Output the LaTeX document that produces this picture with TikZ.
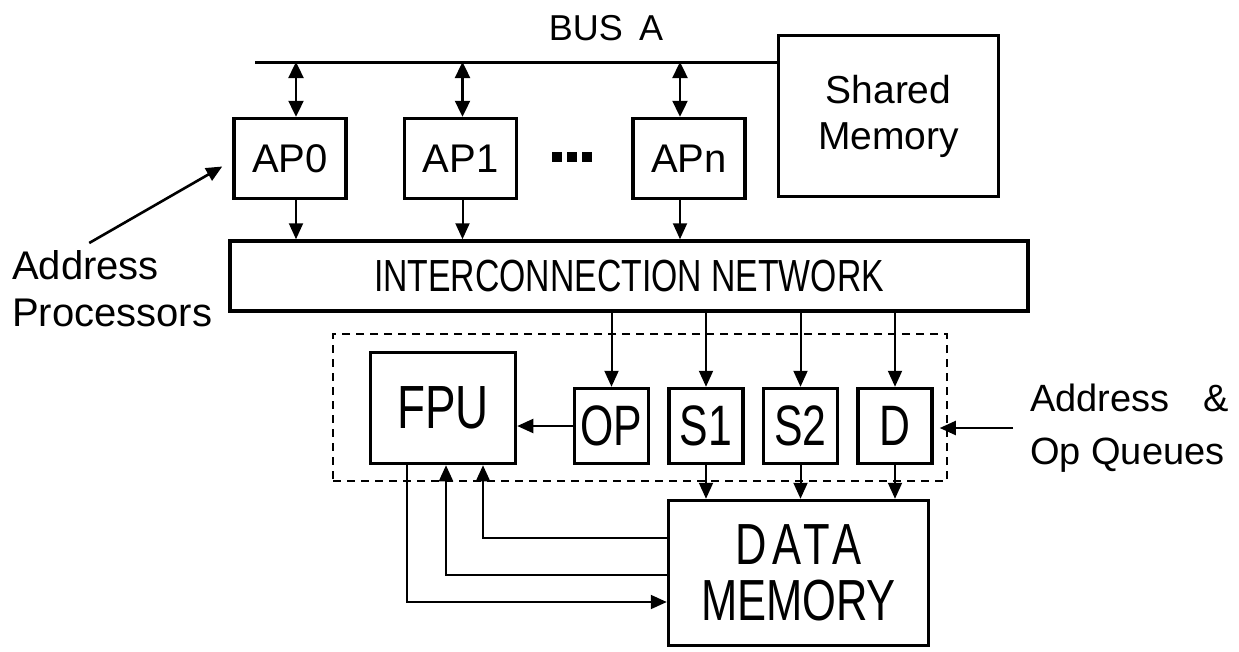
\documentclass[tikz,border=0pt]{standalone}
\usepackage{fontspec}
\setmainfont{Liberation Sans}
\newfontfamily\condfont[FakeStretch=0.75]{Liberation Sans}
\usetikzlibrary{positioning, arrows.meta}
\tikzset{
  blockbox/.style={
    rectangle,
    draw=black,
    line width=3.5pt,
    inner sep=0pt,
    align=center
  },
  apbox/.style={
    blockbox,
    minimum width=112pt,
    minimum height=80pt,
    font=\fontsize{40}{46}\selectfont
  },
  queuebox/.style={
    blockbox,
    minimum width=74pt,
    minimum height=75pt,
    font=\condfont\fontsize{57}{60}\selectfont
  },
  flowarrow/.style={
    line width=2pt,
    -{Triangle[length=16pt,width=14pt]}
  },
  busarrow/.style={
    line width=2.4pt,
    {Triangle[length=16pt,width=15pt]}-{Triangle[length=16pt,width=15pt]}
  },
  sidelabel/.style={
    font=\fontsize{40}{47}\selectfont,
    inner sep=0pt,
    align=left
  },
  queueframe/.style={
    draw=black,
    line width=2.2pt,
    dash pattern=on 8pt off 6pt,
    inner sep=0pt
  }
}

\begin{document}
\begin{tikzpicture}[x=1pt, y=-1pt, node distance=17pt]
  \useasboundingbox (0,0) rectangle (1239,651);

  % bus, shared memory and address processors
  \node[inner sep=0pt, font=\fontsize{36}{40}\selectfont] (busa) at (606,28) {BUS\hspace{0.45em}A};
  \node[blockbox, minimum width=220pt, minimum height=161pt, font=\fontsize{39}{46}\selectfont] (shmem)
    at (888.5,116) {Shared\\Memory};
  \coordinate (busleft) at (255,62);
  \draw[line width=3pt] (busleft) -- (busleft -| shmem.west);

  \node[apbox] (ap0) at (290,158.5) {AP0};
  \node[apbox, right=55pt of ap0] (ap1) {AP1};
  \node[apbox, right=113pt of ap1] (apn) {APn};
  \foreach \i in {0,1,2}
    \fill (552+15*\i,152) rectangle +(10,10);

  \node[blockbox, minimum width=798pt, minimum height=70pt, font=\condfont\fontsize{45}{50}\selectfont] (net)
    at (629,276) {INTERCONNECTION NETWORK};

  \foreach \ap/\dx in {ap0/6, ap1/2, apn/-9} {
    \coordinate (\ap top) at ([xshift=\dx pt]\ap.north);
    \coordinate (\ap bot) at ([xshift=\dx pt]\ap.south);
    \draw[busarrow] (\ap top |- busleft) -- (\ap top);
    \draw[flowarrow] (\ap bot) -- (\ap bot |- net.north);
  }

  \node[sidelabel, anchor=north west] (aplabel) at (12,250) {Address\\Processors};
  \draw[flowarrow, line width=2.6pt] ([xshift=-23pt,yshift=7pt]aplabel.north) -- ([xshift=-10pt,yshift=-8pt]ap0.west);

  % queues and FPU
  \node[queueframe, minimum width=614pt, minimum height=147pt] (qframe) at (640,407.5) {};
  \node[blockbox, minimum width=145pt, minimum height=111pt, font=\condfont\fontsize{61}{64}\selectfont] (fpu)
    at (443,408) {FPU};
  \node[queuebox] (op) at (611.5,426) {OP};
  \node[queuebox, right=of op] (s1) {S1};
  \node[queuebox, right=of s1] (s2) {S2};
  \node[queuebox, right=of s2] (d) {D};

  \node[blockbox, minimum width=260pt, minimum height=145pt, font=\condfont\fontsize{58}{56}\selectfont] (dm)
    at (798.5,573) {{\addfontfeature{LetterSpace=10}DATA}\\MEMORY};

  \foreach \q in {op,s1,s2,d}
    \draw[flowarrow] (\q.north |- net.south) -- (\q.north);
  \foreach \q in {s1,s2,d}
    \draw[flowarrow] (\q.south) -- (\q.south |- dm.north);
  \draw[flowarrow] (op.west) -- (op.west -| fpu.east);

  \draw[flowarrow] ([xshift=-36pt]fpu.south) |- ([yshift=-29pt]dm.west);
  \draw[flowarrow] ([yshift=-2pt]dm.west) -| ([xshift=3pt]fpu.south);
  \draw[flowarrow] ([yshift=35pt]dm.west) -| ([xshift=40pt]fpu.south);

  \node[sidelabel, font=\fontsize{38}{53}\selectfont, anchor=west] (aqlabel) at (1030,428)
    {Address\hspace{0.9em}\&\\Op Queues};
  \draw[flowarrow, shorten <=17pt, shorten >=6pt] (aqlabel.west) -- (aqlabel.west -| d.east);
\end{tikzpicture}
\end{document}
